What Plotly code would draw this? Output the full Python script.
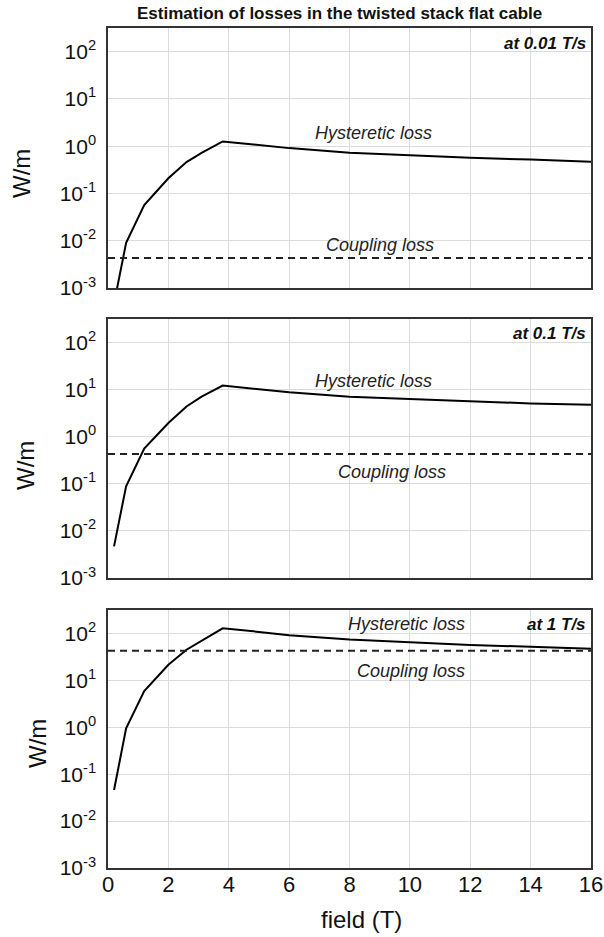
import plotly.graph_objects as go

field = [0.2, 0.6, 1.2, 2.0, 2.6, 3.1, 3.8, 5.0, 6.0, 8.0, 10.0, 12.0, 14.0, 16.0]
hyst_001 = [0.00047, 0.009, 0.057, 0.21, 0.46, 0.72, 1.26, 1.05, 0.91, 0.73, 0.64, 0.57, 0.52, 0.47]
hyst_01 = [0.0047, 0.089, 0.56, 1.96, 4.4, 7.1, 12.2, 10.4, 8.8, 7.1, 6.4, 5.6, 5.1, 4.8]
hyst_1 = [0.046, 0.95, 5.9, 21.5, 45, 69, 129, 108, 92, 74, 64, 57, 52, 47]
coupling_x = [0, 16]
coupling_001 = [0.0043, 0.0043]
coupling_01 = [0.43, 0.43]
coupling_1 = [43, 43]
rate_labels = ["at 0.01 T/s", "at 0.1 T/s", "at 1 T/s"]
x_ticks = [0, 2, 4, 6, 8, 10, 12, 14, 16]
y_tickvals = [1e-3, 1e-2, 1e-1, 1e0, 1e1, 1e2]
y_ticktext = ["10<sup>-3</sup>", "10<sup>-2</sup>", "10<sup>-1</sup>",
              "10<sup>0</sup>", "10<sup>1</sup>", "10<sup>2</sup>"]

W, H = 604, 937
FONT = "Liberation Sans, Arial, sans-serif"

panels = [
    (hyst_001, coupling_001, rate_labels[0], (28, 288), 0.284, -2.09, 8.8, 9.0, 21, 174),
    (hyst_01, coupling_01, rate_labels[1], (319, 578), 1.18, -0.746, 8.8, 9.4, 25, 466),
    (hyst_1, coupling_1, rate_labels[2], (610, 868), 2.21, 1.21, 9.9, 10.05, 37, 744),
]

fig = go.Figure()
annotations = []
layout = dict(
    width=W, height=H, template="none",
    margin=dict(l=0, r=0, t=0, b=0),
    paper_bgcolor="white", plot_bgcolor="white",
    showlegend=False,
    font=dict(family=FONT, color="#111"),
)

for i, (hy, cp, rl, (ytop, ybot), hy_y, cp_y, hy_x, cp_x, wx, wy) in enumerate(panels):
    n = "" if i == 0 else str(i + 1)
    xa = "x" + n
    ya = "y" + n
    fig.add_trace(go.Scatter(x=field, y=hy, mode="lines", xaxis=xa, yaxis=ya,
                             line=dict(color="black", width=2)))
    fig.add_trace(go.Scatter(x=coupling_x, y=cp, mode="lines", xaxis=xa, yaxis=ya,
                             line=dict(color="#222", width=2, dash="7px,5px")))
    dom_y = [(H - ybot) / H, (H - ytop) / H]
    layout["xaxis" + n] = dict(
        domain=[108 / W, 591 / W], range=[0, 16], anchor=ya,
        tickvals=x_ticks, showticklabels=(i == 2),
        tickfont=dict(size=22, color="#111", family=FONT),
        showgrid=True, gridcolor="#dcdcdc", gridwidth=1,
        showline=True, mirror=True, linecolor="#333", linewidth=1.5,
        zeroline=False, ticks="", automargin=False, ticklabelstandoff=-4,
    )
    layout["yaxis" + n] = dict(
        domain=dom_y, type="log", range=[-3, 2.5], anchor=xa,
        tickvals=y_tickvals, ticktext=y_ticktext,
        tickfont=dict(size=21, color="#111", family=FONT),
        showgrid=True, gridcolor="#dcdcdc", gridwidth=1,
        showline=True, mirror=True, linecolor="#333", linewidth=1.5,
        zeroline=False, ticks="", automargin=False, ticklabelstandoff=6,
    )
    annotations.append(dict(x=hy_x, y=hy_y, xref=xa, yref=ya, text="<i>Hysteretic loss</i>",
                            xanchor="center", yanchor="middle",
                            showarrow=False, font=dict(size=18, color="#222", family=FONT)))
    annotations.append(dict(x=cp_x, y=cp_y, xref=xa, yref=ya, text="<i>Coupling loss</i>",
                            xanchor="center", yanchor="middle",
                            showarrow=False, font=dict(size=18, color="#222", family=FONT)))
    annotations.append(dict(x=16, y=2.2 if i else 2.18, xref=xa, yref=ya,
                            text="<b><i>" + rl + "</i></b>", xanchor="right", yanchor="middle",
                            xshift=-3, showarrow=False,
                            font=dict(size=17, color="#111", family=FONT)))
    annotations.append(dict(x=wx / W, y=(H - wy) / H, xref="paper", yref="paper",
                            text="W/m", textangle=-90, showarrow=False,
                            xanchor="center", yanchor="middle",
                            font=dict(size=24, color="#111", family=FONT)))

annotations.append(dict(x=339 / W, y=(H - 14) / H, xref="paper", yref="paper",
                        text="<b>Estimation of losses in the twisted stack flat cable</b>",
                        xanchor="center", yanchor="middle",
                        showarrow=False, font=dict(size=17, color="#111", family=FONT)))
annotations.append(dict(x=361 / W, y=(H - 919) / H, xref="paper", yref="paper",
                        text="field (T)", showarrow=False,
                        xanchor="center", yanchor="middle",
                        font=dict(size=24, color="#111", family=FONT)))
layout["annotations"] = annotations
fig.update_layout(**layout)
fig.write_html("out.html", config={"displayModeBar": False},
               post_script="document.body.style.margin='0px';document.body.style.overflow='hidden';")
